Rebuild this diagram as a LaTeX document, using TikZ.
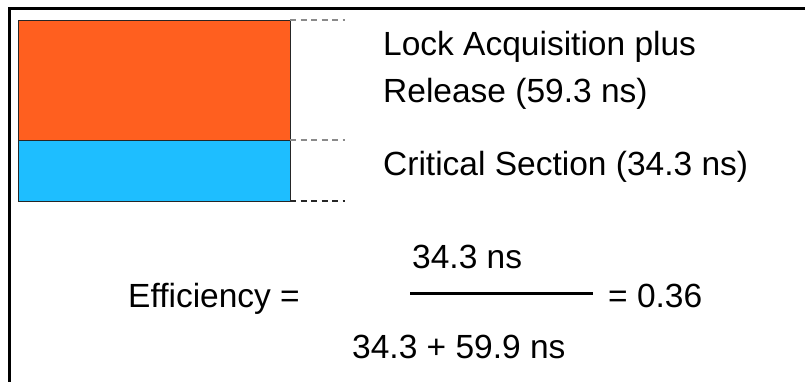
\documentclass[tikz,border=0pt]{standalone}
\usepackage{fontspec}
\setmainfont{Liberation Sans}
\definecolor{lockorange}{HTML}{FF5F1F}
\definecolor{critblue}{HTML}{1EBEFF}
\definecolor{guidegray}{HTML}{8A8A8A}
\tikzset{
  frameline/.style={line width=3pt, line cap=rect},
  bar/.style={draw=black!85, line width=0.9pt},
  guide/.style={guidegray, line width=1.4pt, dash pattern=on 6pt off 4.5pt},
  guidedark/.style={black!85, line width=1.4pt, dash pattern=on 6pt off 4.5pt},
  label/.style={anchor=base west, inner sep=0pt, font=\fontsize{33.5}{40}\selectfont},
}
\begin{document}
\begin{tikzpicture}[x=1pt, y=-1pt]
  \useasboundingbox (0,0) rectangle (805,381);
  % frame: only the top and left edges lie inside the page
  \draw[frameline] (9,383) -- (9,8) -- (808,8);

  % stacked bar: lock overhead above, critical section below
  \fill[lockorange] (18,20) rectangle (290,140);
  \fill[critblue] (18,140) rectangle (290,201);
  \draw[bar] (18,20) rectangle (290,201);
  \draw[bar] (18,140) -- (290,140);
  \coordinate (barTop) at (290,20);
  \coordinate (barMid) at (290,140);
  \coordinate (barBot) at (290,201);
  \coordinate (tickTop) at (345,20);
  \coordinate (tickMid) at (345,140);
  \coordinate (tickBot) at (345,201);
  \draw[guide] (barTop) -- (tickTop);
  \draw[guide] (barMid) -- (tickMid);
  \draw[guidedark] (barBot) -- (tickBot);

  % legend texts
  \node[label] (lockA) at (383,55) {Lock Acquisition plus};
  \node[label] (lockB) at (383,102) {Release (59.3 ns)};
  \node[label] (crit) at (383,175) {Critical Section (34.3 ns)};

  % efficiency formula
  \node[label] (eff) at (128,307) {Efficiency =};
  \node[label] (num) at (412,268) {34.3 ns};
  \node[label] (den) at (352,358) {34.3 + 59.9 ns};
  \node[label] (res) at (608,307) {= 0.36};
  \coordinate (fracL) at (410,293);
  \coordinate (fracR) at (593,293);
  \draw[line width=3pt] (fracL) -- (fracR);
\end{tikzpicture}
\end{document}
